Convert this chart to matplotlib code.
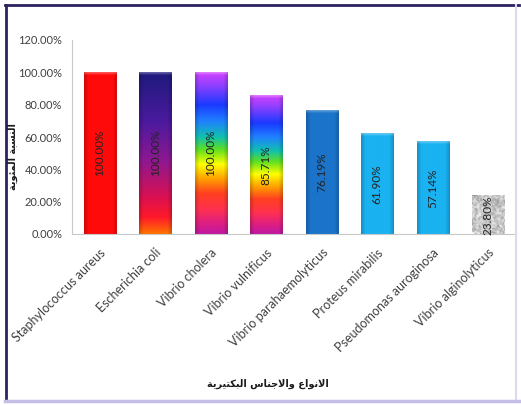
import numpy as np
import matplotlib
matplotlib.use('Agg')
import matplotlib.pyplot as plt
from matplotlib.colors import to_rgb
from matplotlib.lines import Line2D

# bacterial species and their percentage
species = ['Staphylococcus aureus', 'Escherichia coli', 'Vibrio cholera',
           'Vibrio vulnificus', 'Vibrio parahaemolyticus', 'Proteus mirabilis',
           'Pseudomonas auroginosa', 'Vibrio alginolyticus']
percent = [100.00, 100.00, 100.00, 85.71, 76.19, 61.90, 57.14, 23.80]
y_ticks = [0, 20, 40, 60, 80, 100, 120]

# Arabic titles, written as shaped presentation forms in visual order
# (matplotlib has no bidi / joining support)
x_title = ('\uFE94\uFEF3\uFEAE\uFEF4\uFE98\uFEDC\uFE92\uFEDF\uFE8D '
           '\uFEB1\uFE8E\uFEE8\uFE9F\uFEFB\uFE8D\uFEED '
           '\uFEC9\uFE8D\uFEEE\uFEE7\uFEFB\uFE8D')
y_title = ('\uFE94\uFEF3\uFEEE\uFE8C\uFEE4\uFEDF\uFE8D '
           '\uFE94\uFE92\uFEB4\uFEE8\uFEDF\uFE8D')

# fill styles: plain colour, vertical gradient (top -> bottom) or granite
ecoli_stops = [(0.0, '#1e1a7c'), (0.3, '#4a1a9e'), (0.55, '#8e1890'),
               (0.78, '#dc1050'), (0.9, '#ff1a2a'), (1.0, '#ff7200')]
rainbow_stops = [(0.0, '#d040ff'), (0.08, '#9040ff'), (0.2, '#1a3aff'),
                 (0.3, '#2080ff'), (0.4, '#10c0b0'), (0.48, '#60e020'),
                 (0.57, '#ffff00'), (0.66, '#ffa000'), (0.75, '#ff4020'),
                 (0.85, '#ff3050'), (0.93, '#e02080'), (1.0, '#c018a0')]
fills = [('solid', '#ff0a0a'), ('grad', ecoli_stops), ('grad', rainbow_stops),
         ('grad', rainbow_stops), ('solid', '#1b74ca'), ('solid', '#1ab2f0'),
         ('solid', '#1ab2f0'), ('granite', None)]

plt.rcParams['font.family'] = ['Lato', 'DejaVu Sans']

fig = plt.figure(figsize=(5.21, 4.05), dpi=100)
ax = fig.add_axes([72 / 521, 1 - 234 / 405, 444 / 521, 194 / 405])
px_per_unit = 194 / 120


def column_colors(kind, spec, rows):
    t = np.linspace(0, 1, rows)
    if kind == 'solid':
        return np.tile(np.array(to_rgb(spec)), (rows, 1))
    pos = [p for p, _ in spec]
    cols = np.array([to_rgb(c) for _, c in spec])
    return np.stack([np.interp(t, pos, cols[:, k]) for k in range(3)], axis=1)


def granite(rows, cols):
    i, j = np.mgrid[0:rows, 0:cols]
    n = np.sin(i * 12.9898 + j * 78.233) * 43758.5453
    n = n - np.floor(n)
    # soften the speckle a little
    pad = np.pad(n, 1, mode='edge')
    sm = sum(pad[a:a + rows, b:b + cols] for a in range(3) for b in range(3)) / 9
    g = 0.5 + 0.55 * (0.4 * n + 0.6 * sm)
    return np.clip(np.stack([g, g, g], axis=2), 0, 1)


x = np.arange(len(species))
bars = ax.bar(x, percent, width=0.58, color='none', edgecolor='none', zorder=2)

cols = 32
for bar, (kind, spec), v in zip(bars, fills, percent):
    rows = max(int(round(v * px_per_unit)), 4)
    if kind == 'granite':
        img = granite(rows, cols)
    else:
        base = column_colors(kind, spec, rows)
        # darker rim on both sides for the bevel look
        u = np.linspace(-1, 1, cols)
        shade = 1 - 0.18 * np.clip((np.abs(u) - 0.75) / 0.25, 0, 1)
        img = base[:, None, :] * shade[None, :, None]
        # soft lighter cap along the top edge
        cap = np.array([0.3, 0.18, 0.08])[:rows]
        img[:len(cap)] = img[:len(cap)] * (1 - cap[:, None, None]) + cap[:, None, None]
    x0, w, h = bar.get_x(), bar.get_width(), bar.get_height()
    ax.imshow(img, extent=(x0, x0 + w, 0, h), aspect='auto', origin='upper',
              interpolation='bilinear', zorder=2)
    ax.text(x0 + w / 2, h / 2, f'{v:.2f}%', rotation=90, ha='center', va='center',
            fontsize=8.5, color='#222222', zorder=3)

ax.set_xlim(-0.5, len(species) - 0.5)
ax.set_ylim(0, 120)
ax.set_yticks(y_ticks)
ax.set_yticklabels([f'{t:.2f}%' for t in y_ticks])
ax.set_xticks(x)
ax.set_xticklabels(species, rotation=45, ha='right', rotation_mode='anchor')
ax.tick_params(axis='y', length=0, pad=7, labelsize=8, labelcolor='#404040')
ax.tick_params(axis='x', length=0, pad=9, labelsize=9, labelcolor='#404040')
for s in ['top', 'right']:
    ax.spines[s].set_visible(False)
for s in ['left', 'bottom']:
    ax.spines[s].set_color('#c8c8c8')
    ax.spines[s].set_linewidth(0.8)

fig.text(13 / 521, 1 - 157 / 405, y_title, rotation=90, ha='center', va='center',
         family='DejaVu Sans', weight='bold', fontsize=7, color='#1a1a1a')
fig.text(268 / 521, 1 - 384 / 405, x_title, ha='center', va='center',
         family='DejaVu Sans', weight='bold', fontsize=7, color='#1a1a1a')

# frame around the chart: dark top/left, pale lavender bottom/right
W, H = 521, 405
def frame_line(x1, y1, x2, y2, color, lw):
    fig.add_artist(Line2D([x1 / W, x2 / W], [1 - y1 / H, 1 - y2 / H],
                          color=color, lw=lw, transform=fig.transFigure))

frame_line(5, 5, 519, 5, '#2b2460', 2)
frame_line(6, 5, 6, 401, '#2b2460', 2)
frame_line(516, 5, 516, 401, '#ddd8f0', 1.5)
frame_line(5, 401, 519, 401, '#c6bee6', 2.5)

fig.savefig('out.png', dpi=100)
